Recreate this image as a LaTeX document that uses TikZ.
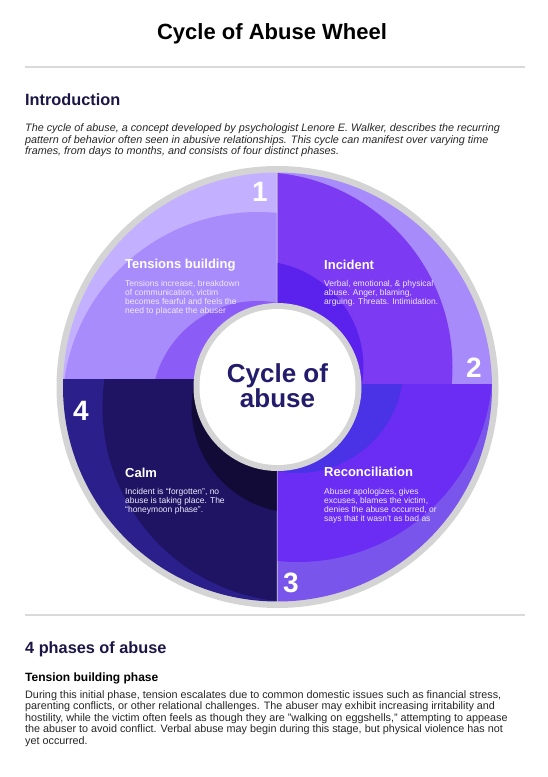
\documentclass[tikz,border=0pt]{standalone}
\usepackage{fontspec}
\setmainfont{Liberation Sans}
\definecolor{ringgray}{HTML}{D4D4D4}
\definecolor{rulegray}{HTML}{DADADA}
\definecolor{navy}{HTML}{1B1646}
\definecolor{centertext}{HTML}{231B6B}
\definecolor{qtext}{HTML}{EFEAFF}
\definecolor{qa1}{HTML}{C3B0FE}
\definecolor{qb1}{HTML}{A98CFC}
\definecolor{qc1}{HTML}{8B5CF6}
\definecolor{qa2}{HTML}{A78BFA}
\definecolor{qb2}{HTML}{7C3AF2}
\definecolor{qc2}{HTML}{5B22EE}
\definecolor{qa3}{HTML}{7A55EC}
\definecolor{qb3}{HTML}{6B2DF4}
\definecolor{qc3}{HTML}{4A32E6}
\definecolor{qa4}{HTML}{2B1F8C}
\definecolor{qb4}{HTML}{1E1463}
\definecolor{qc4}{HTML}{120B37}
\begin{document}
\begin{tikzpicture}[x=1pt,y=-1pt,
  qhead/.style={font=\fontsize{13}{15}\selectfont\bfseries, text=white, anchor=base west, inner sep=0},
  qbody/.style={font=\fontsize{8.5}{9}\selectfont, text=qtext, align=left, anchor=north west, inner sep=0},
  qnum/.style={font=\fontsize{28}{30}\selectfont\bfseries, text=white, inner sep=0},
  hrule/.style={draw=rulegray, line width=1.6pt},
  heading/.style={font=\fontsize{16.3}{19}\selectfont\bfseries, text=navy, anchor=base west, inner sep=0},
  para/.style={font=\fontsize{10.8}{11.6}\selectfont, text=black!85, align=left, anchor=north west, inner sep=0}
]
\useasboundingbox[fill=white] (0,0) rectangle (548,777);

% title
\node[font=\fontsize{22}{26}\selectfont\bfseries, anchor=base, inner sep=0] (title) at (272,39) {Cycle of Abuse Wheel};
\coordinate (r1a) at (25,66.7);
\coordinate (r1b) at (525,66.7);
\draw[hrule] (r1a) -- (r1b);

\node[heading] (intro) at (25,105) {Introduction};
\node[para, font=\fontsize{10.8}{11.7}\selectfont\itshape] (introtext) at (25,123.5) {The cycle of abuse, a concept developed by psychologist Lenore E. Walker, describes the recurring\\pattern of behavior often seen in abusive relationships. This cycle can manifest over varying time\\frames, from days to months, and consists of four distinct phases.};

% wheel
\coordinate (O) at (277.5,387);
\fill[ringgray] (O) circle[radius=221pt];

% Q1 top-left
\begin{scope}
\clip (50,160) rectangle (276.7,379);
\clip (O) circle[radius=214.5pt];
\fill[qa1] (O) circle[radius=216pt];
\fill[qb1] (257.5,407) circle[radius=195pt];
\fill[qc1] (257.5,407) circle[radius=106pt];
\end{scope}
% Q2 top-right
\begin{scope}
\clip (277.5,160) rectangle (505,383.5);
\clip (O) circle[radius=214.5pt];
\fill[qa2] (O) circle[radius=216pt];
\fill[qb2] (257.5,367) circle[radius=195pt];
\fill[qc2] (257.5,367) circle[radius=106pt];
\end{scope}
% Q3 bottom-right
\begin{scope}
\clip (277.5,384.3) rectangle (505,615);
\clip (O) circle[radius=214.5pt];
\fill[qa3] (O) circle[radius=216pt];
\fill[qb3] (297.5,367) circle[radius=195pt];
\fill[qc3] (297.5,367) circle[radius=106pt];
\end{scope}
% Q4 bottom-left
\begin{scope}
\clip (50,379.8) rectangle (276.7,615);
\clip (O) circle[radius=214.5pt];
\fill[qa4] (O) circle[radius=216pt];
\fill[qb4] (297.5,407) circle[radius=195pt];
\fill[qc4] (297.5,407) circle[radius=106pt];
\end{scope}

% hub
\fill[ringgray] (O) circle[radius=84pt];
\fill[white] (O) circle[radius=78pt];
\node[font=\fontsize{26}{25}\selectfont\bfseries, text=centertext, align=center, anchor=north, inner sep=0] (hub) at (277.5,363) {Cycle of\\abuse};

% numbers
\node[qnum] (n1) at (260,192) {1};
\node[qnum] (n2) at (474,368) {2};
\node[qnum] (n3) at (291,583) {3};
\node[qnum] (n4) at (81,411) {4};

% quadrant texts
\node[qhead] (h1) at (125,268) {Tensions building};
\node[qbody] (b1) at (125,280) {Tensions increase, breakdown\\of communication, victim\\becomes fearful and feels the\\need to placate the abuser};
\node[qhead] (h2) at (324,269) {Incident};
\node[qbody] (b2) at (324,280) {Verbal, emotional, \& physical\\abuse. Anger, blaming,\\arguing. Threats. Intimidation.};
\node[qhead] (h3) at (324,476) {Reconciliation};
\node[qbody] (b3) at (324,488) {Abuser apologizes, gives\\excuses, blames the victim,\\denies the abuse occurred, or\\says that it wasn’t as bad as};
\node[qhead] (h4) at (125,477) {Calm};
\node[qbody] (b4) at (125,488.5) {Incident is “forgotten”, no\\abuse is taking place. The\\“honeymoon phase”.};

% lower section
\coordinate (r2a) at (25,615);
\coordinate (r2b) at (525,615);
\draw[hrule] (r2a) -- (r2b);
\node[heading] (phases) at (25,653.3) {4 phases of abuse};
\node[font=\fontsize{12}{14}\selectfont\bfseries, anchor=base west, inner sep=0] (tbp) at (25,681.7) {Tension building phase};
\node[para] (tbptext) at (25,690) {During this initial phase, tension escalates due to common domestic issues such as financial stress,\\parenting conflicts, or other relational challenges. The abuser may exhibit increasing irritability and\\hostility, while the victim often feels as though they are "walking on eggshells," attempting to appease\\the abuser to avoid conflict. Verbal abuse may begin during this stage, but physical violence has not\\yet occurred.};
\end{tikzpicture}
\end{document}
